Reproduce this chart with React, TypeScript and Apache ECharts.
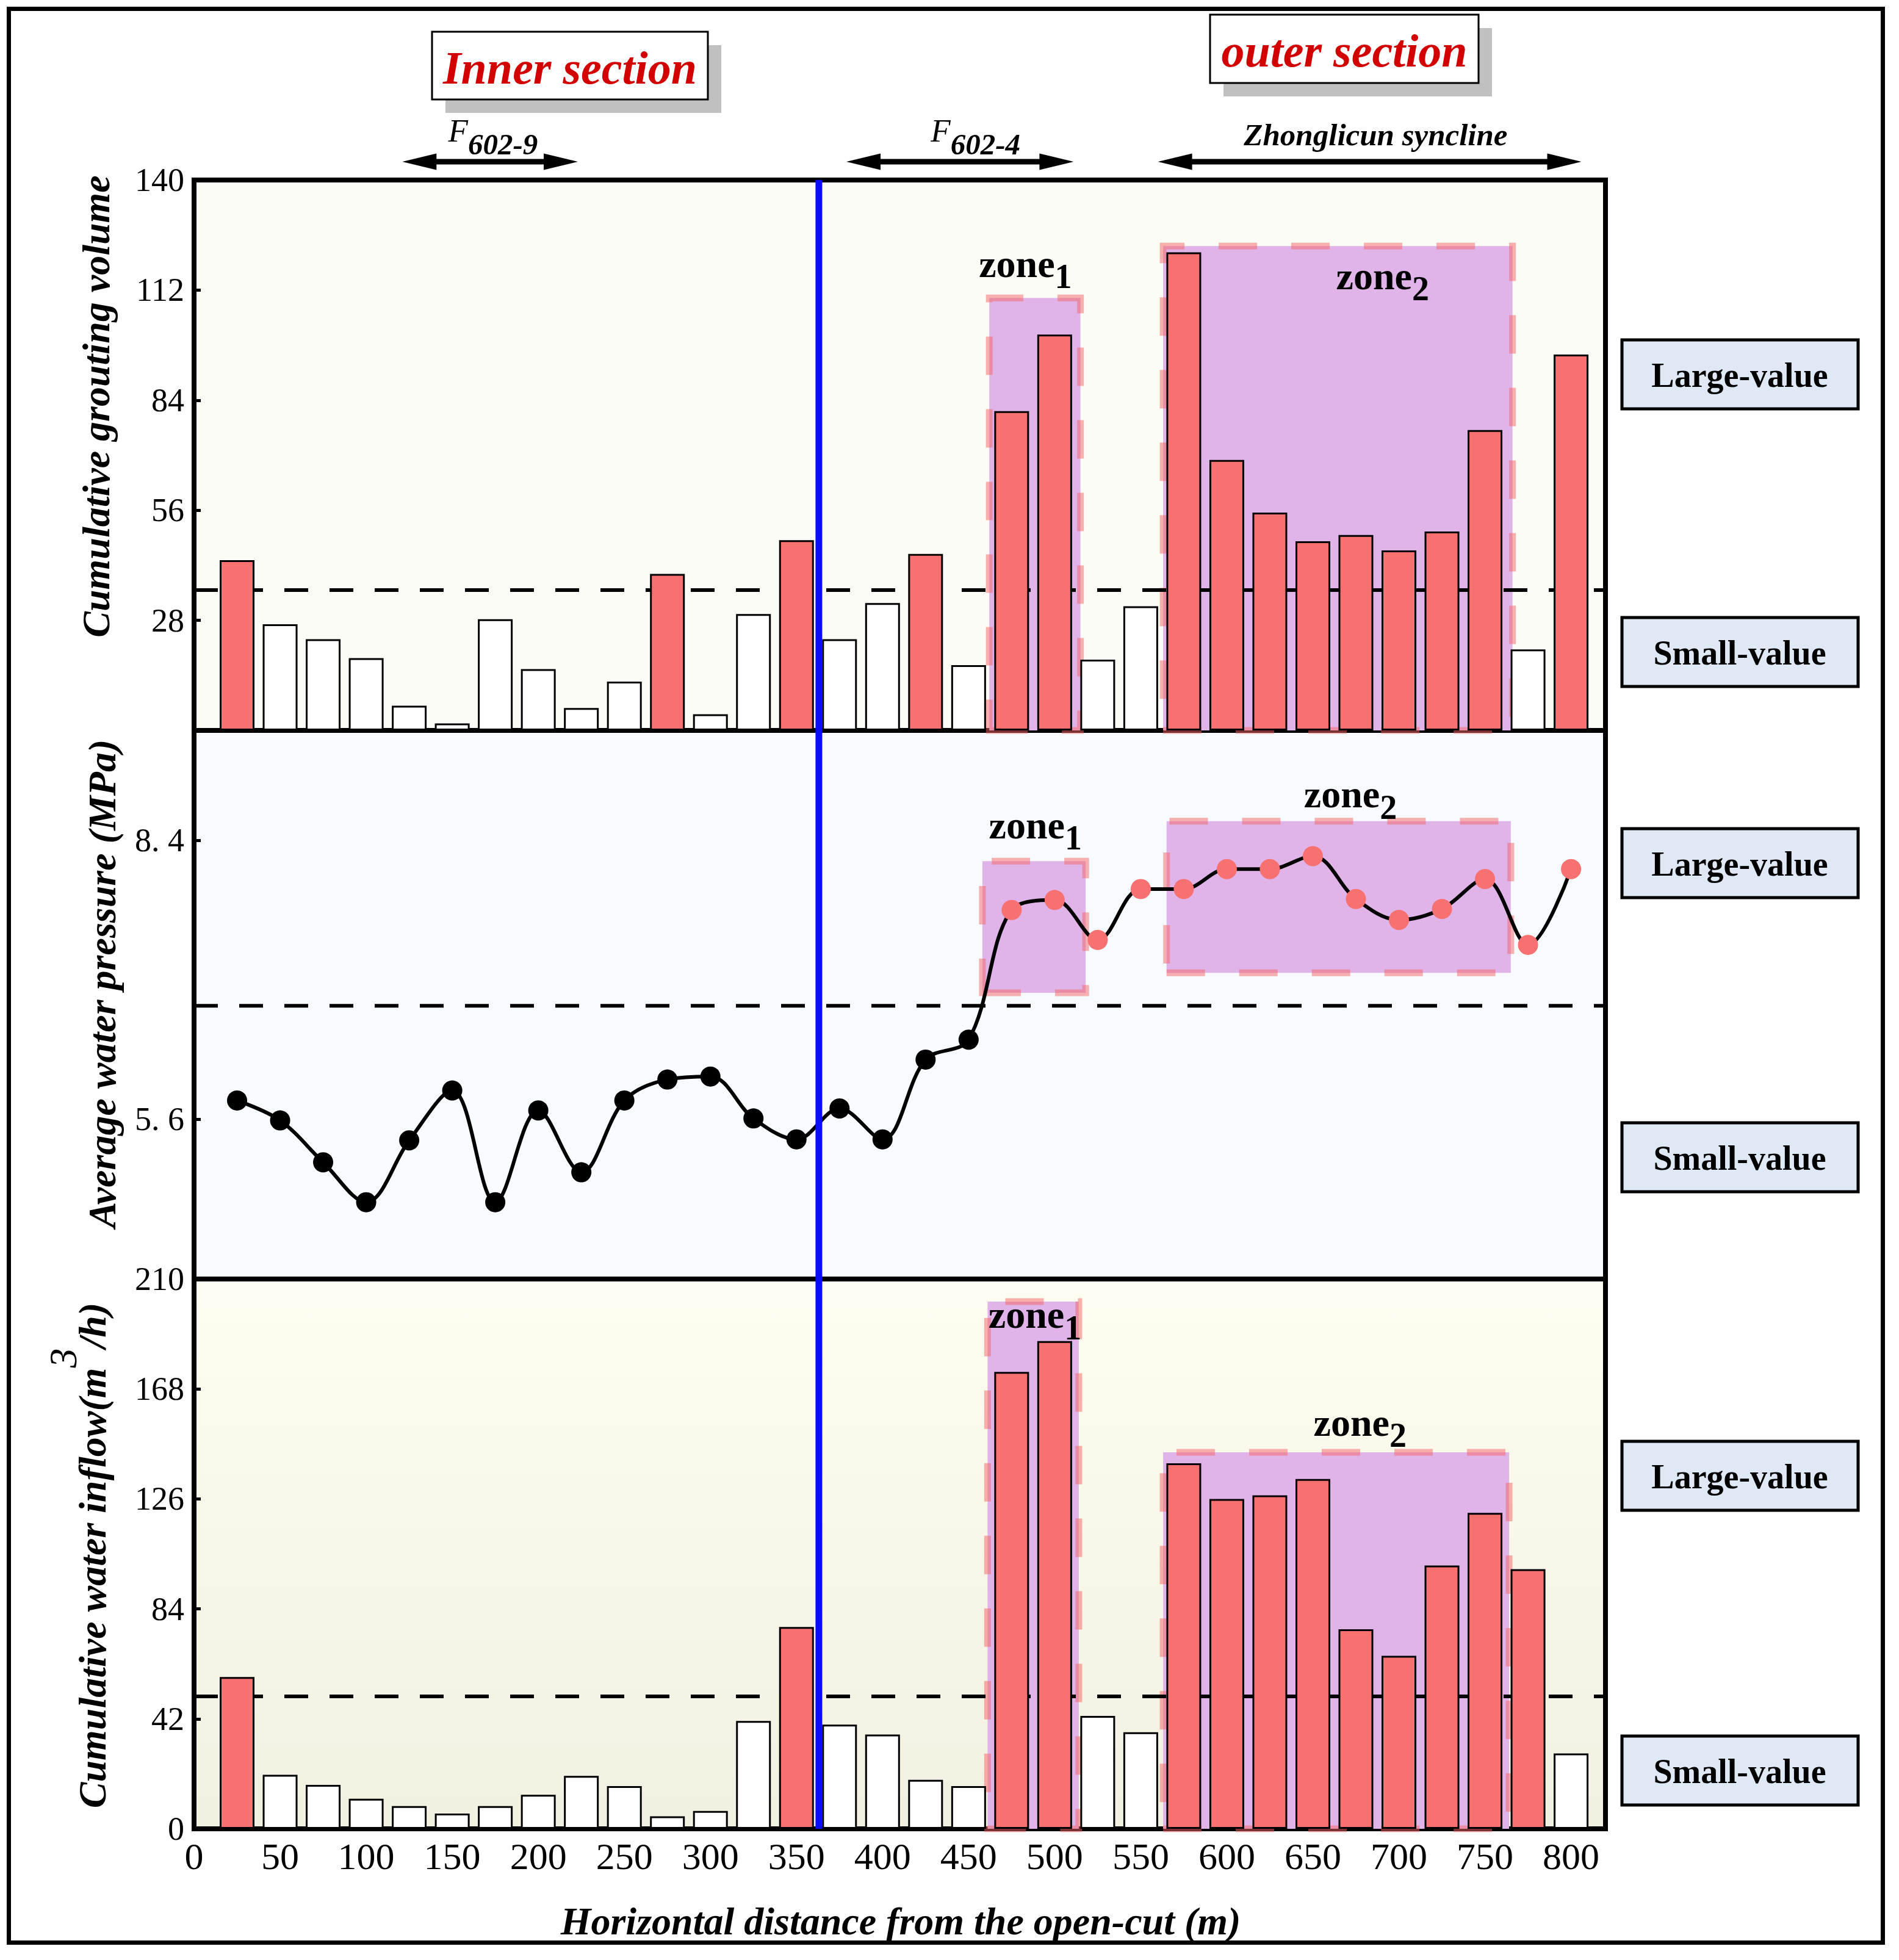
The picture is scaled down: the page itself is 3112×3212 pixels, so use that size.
import React, { useEffect, useRef } from 'react';
import * as echarts from 'echarts';

// ---------------- data ----------------
const distances = [25, 50, 75, 100, 125, 150, 175, 200, 225, 250, 275, 300, 325, 350, 375, 400, 425, 450, 475, 500, 525, 550, 575, 600, 625, 650, 675, 700, 725, 750, 775, 800];
const groutingVolume = [43.3, 27.0, 23.2, 18.4, 6.3, 1.8, 28.3, 15.6, 5.7, 12.4, 39.8, 4.1, 29.6, 48.4, 23.2, 32.4, 44.9, 16.6, 81.2, 100.7, 18.0, 31.6, 121.6, 68.8, 55.4, 48.1, 49.7, 45.8, 50.6, 76.4, 20.6, 95.6];
const waterPressure = [5.79, 5.59, 5.17, 4.77, 5.39, 5.89, 4.77, 5.69, 5.07, 5.79, 6.0, 6.03, 5.61, 5.4, 5.71, 5.4, 6.2, 6.4, 7.7, 7.8, 7.4, 7.91, 7.91, 8.11, 8.11, 8.24, 7.81, 7.6, 7.71, 8.01, 7.35, 8.11];
const waterInflow = [58.0, 20.6, 16.8, 11.5, 8.7, 5.8, 8.7, 13.0, 20.2, 16.3, 4.8, 6.8, 41.2, 77.1, 39.8, 36.0, 18.7, 16.3, 174.5, 186.3, 43.1, 36.9, 139.6, 126.0, 127.4, 133.6, 76.2, 66.1, 100.6, 120.7, 99.2, 28.8];

const groutingThreshold = 35.7;
const pressureThreshold = 6.74;
const inflowThreshold = 50.6;

const xTickValues = [0, 50, 100, 150, 200, 250, 300, 350, 400, 450, 500, 550, 600, 650, 700, 750, 800];
const pressureTickValues = [5.6, 8.4];

// zones: [xFrom, xTo, yFrom, yTo]
const groutingZones = [[462, 515, 0, 110], [563, 766, 0, 123.2]];
const pressureZones = [[458, 518, 6.87, 8.19], [565, 765, 7.07, 8.59]];
const inflowZones = [[461, 514, 0, 201.4], [563, 764, 0, 143.8]];

// zone labels: [subscript, x, y]
const groutingZoneLabels: [string, number, number][] = [['1', 483, 118.7], ['2', 690.5, 115.6]];
const pressureZoneLabels: [string, number, number][] = [['1', 488.8, 8.55], ['2', 671.8, 8.86]];
const inflowZoneLabels: [string, number, number][] = [['1', 488.5, 196.3], ['2', 677.4, 155.2]];

const dividerX = 363;

const structureSpans = [
  { main: 'F', sub: '602-9', from: 121, to: 223, labelX: 173.7 },
  { main: 'F', sub: '602-4', from: 379, to: 511, labelX: 454 },
  { main: 'Zhonglicun syncline', sub: '', from: 560, to: 806, labelX: 686.5 },
];

// ---------------- style ----------------
const SERIF = 'Liberation Serif';
const RED = '#f87171';
const GRID_LEFT = 318;
const GRID_WIDTH = 2313;
const panels = [
  { top: 295, height: 902 },
  { top: 1197, height: 899 },
  { top: 2096, height: 901 },
];

function zoneArea(zones: number[][]) {
  return {
    silent: true,
    z: 1,
    label: { show: false },
    itemStyle: {
      color: '#e0b4e8',
      borderColor: 'rgba(245,100,100,0.5)',
      borderWidth: 11,
      borderType: [63, 56],
    },
    data: zones.map((z) => [
      { xAxis: z[0], yAxis: z[2] },
      { xAxis: z[1], yAxis: z[3] },
    ]),
  };
}

function thresholdSeries(i: number, thr: number) {
  return {
    type: 'line',
    xAxisIndex: i,
    yAxisIndex: i,
    data: [[0, thr], [820, thr]],
    symbol: 'none',
    silent: true,
    z: 2,
    lineStyle: { color: '#000', width: 6, type: [39, 35] },
  };
}

function barSeries(i: number, values: number[], thr: number, zones: number[][]) {
  return {
    type: 'bar',
    xAxisIndex: i,
    yAxisIndex: i,
    z: 3,
    barWidth: 57,
    silent: true,
    itemStyle: { borderColor: '#000', borderWidth: 3 },
    data: distances.map((x, k) => ({
      value: [x, values[k]],
      itemStyle: { color: values[k] > thr ? RED : '#ffffff' },
    })),
    markArea: zoneArea(zones),
  };
}

function yAxisBase(i: number) {
  return {
    gridIndex: i,
    type: 'value',
    axisLine: { show: true, lineStyle: { color: '#000', width: 8 } },
    axisTick: { show: true, inside: true, length: 11, lineStyle: { color: '#000', width: 5 } },
    splitLine: { show: false },
    axisLabel: { color: '#000', fontFamily: SERIF, fontSize: 54, margin: 16 },
  };
}

function buildOption() {
  const b0 = yAxisBase(0);
  const b1 = yAxisBase(1);
  const b2 = yAxisBase(2);
  return {
    animation: false,
    backgroundColor: '#ffffff',
    textStyle: { fontFamily: SERIF },
    grid: panels.map((p, i) => ({
      left: GRID_LEFT,
      width: GRID_WIDTH,
      top: p.top,
      height: p.height,
      show: true,
      borderColor: '#000',
      borderWidth: 8,
      containLabel: false,
      outerBoundsMode: 'none',
      backgroundColor:
        i === 0
          ? '#fbfcf6'
          : i === 1
          ? '#f7fbff'
          : new echarts.graphic.LinearGradient(0, 0, 0, 1, [
              { offset: 0, color: '#fdfdf1' },
              { offset: 1, color: '#f2f0e1' },
            ]),
    })),
    xAxis: [0, 1, 2].map((i) => ({
      gridIndex: i,
      type: 'value',
      min: 0,
      max: 820,
      show: i === 2,
      axisLine: { show: true, lineStyle: { color: '#000', width: 8 } },
      axisTick: { show: false },
      splitLine: { show: false },
      axisLabel: {
        show: i === 2,
        customValues: xTickValues,
        color: '#000',
        fontFamily: SERIF,
        fontSize: 62,
        margin: 14,
      },
    })),
    yAxis: [
      {
        ...b0,
        min: 0,
        max: 140,
        interval: 28,
        axisLabel: { ...b0.axisLabel, formatter: (v: number) => (v === 0 ? '' : String(v)) },
      },
      {
        ...b1,
        min: 4,
        max: 9.5,
        axisTick: { ...b1.axisTick, customValues: pressureTickValues },
        axisLabel: {
          ...b1.axisLabel,
          customValues: pressureTickValues,
          formatter: (v: number) => v.toFixed(1).replace('.', '. '),
        },
      },
      {
        ...b2,
        min: 0,
        max: 210,
        interval: 42,
      },
    ],
    series: [
      barSeries(0, groutingVolume, groutingThreshold, groutingZones),
      thresholdSeries(0, groutingThreshold),
      {
        type: 'line',
        xAxisIndex: 1,
        yAxisIndex: 1,
        z: 4,
        silent: true,
        smooth: 0.35,
        symbol: 'circle',
        symbolSize: 33,
        lineStyle: { color: '#000', width: 6 },
        itemStyle: { color: '#000' },
        data: distances.map((x, k) => ({
          value: [x, waterPressure[k]],
          itemStyle: { color: waterPressure[k] > pressureThreshold ? RED : '#000' },
        })),
        markArea: zoneArea(pressureZones),
      },
      thresholdSeries(1, pressureThreshold),
      barSeries(2, waterInflow, inflowThreshold, inflowZones),
      thresholdSeries(2, inflowThreshold),
    ],
  };
}

function textEl(x: number, y: number, style: any, extra: any = {}) {
  return {
    type: 'text',
    x,
    y,
    z: 60,
    silent: true,
    ...extra,
    style: {
      fill: '#000',
      fontFamily: SERIF,
      align: 'center',
      verticalAlign: 'middle',
      textAlign: 'center',
      textVerticalAlign: 'middle',
      ...style,
    },
  };
}

function buildGraphics(chart: any) {
  const g: any[] = [];
  const px = (gi: number, x: number, y: number) => chart.convertToPixel({ gridIndex: gi }, [x, y]);

  // outer frame
  g.push({
    type: 'rect',
    z: 100,
    silent: true,
    shape: { x: 14.5, y: 14.5, width: 3071, height: 3169 },
    style: { fill: 'none', stroke: '#000', lineWidth: 7 },
  });

  // blue divider line
  const topP = px(0, dividerX, 140);
  const botP = px(2, dividerX, 0);
  g.push({
    type: 'line',
    z: 40,
    silent: true,
    shape: { x1: topP[0], y1: topP[1], x2: botP[0], y2: botP[1] },
    style: { stroke: '#0b0bff', lineWidth: 11 },
  });

  // section boxes
  const sections = [
    { text: 'Inner section', x: 708, y: 52, w: 452, h: 111 },
    { text: 'outer section', x: 1983, y: 24, w: 440, h: 112 },
  ];
  sections.forEach((s) => {
    g.push({ type: 'rect', z: 50, silent: true, shape: { x: s.x + 22, y: s.y + 22, width: s.w, height: s.h }, style: { fill: '#c0c0c0' } });
    g.push({ type: 'rect', z: 51, silent: true, shape: { x: s.x, y: s.y, width: s.w, height: s.h }, style: { fill: '#ffffff', stroke: '#000', lineWidth: 3 } });
    g.push(textEl(s.x + s.w / 2, s.y + s.h / 2 + 3, { text: s.text, fill: '#d20000', fontSize: 76, fontWeight: 'bold', fontStyle: 'italic' }));
  });

  // structure arrows + labels
  const arrowY = 265;
  const headLen = 56;
  const headHalf = 13.5;
  const shaftHalf = 4.5;
  structureSpans.forEach((s) => {
    const x1 = px(0, s.from, 0)[0];
    const x2 = px(0, s.to, 0)[0];
    g.push({
      type: 'polygon',
      z: 50,
      silent: true,
      shape: {
        points: [
          [x1, arrowY],
          [x1 + headLen, arrowY - headHalf],
          [x1 + headLen, arrowY - shaftHalf],
          [x2 - headLen, arrowY - shaftHalf],
          [x2 - headLen, arrowY - headHalf],
          [x2, arrowY],
          [x2 - headLen, arrowY + headHalf],
          [x2 - headLen, arrowY + shaftHalf],
          [x1 + headLen, arrowY + shaftHalf],
          [x1 + headLen, arrowY + headHalf],
        ],
      },
      style: { fill: '#000' },
    });
    const lx = px(0, s.labelX, 0)[0];
    if (s.sub) {
      g.push(
        textEl(lx, 214, {
          text: `{f|${s.main}}{s|${s.sub}}`,
          rich: {
            f: { fontFamily: SERIF, fontSize: 53, fontStyle: 'italic', fill: '#000' },
            s: { fontFamily: SERIF, fontSize: 49, fontStyle: 'italic', fontWeight: 'bold', fill: '#000', padding: [44, 0, 0, 0] },
          },
        })
      );
    } else {
      g.push(textEl(lx, 221, { text: s.main, fontSize: 51, fontWeight: 'bold', fontStyle: 'italic' }));
    }
  });

  // axis titles
  const titleStyle = { fontSize: 64, fontWeight: 'bold', fontStyle: 'italic' };
  g.push(textEl(157, 666, { ...titleStyle, text: 'Cumulative grouting volume' }, { rotation: Math.PI / 2 }));
  g.push(textEl(167, 1612, { ...titleStyle, text: 'Average water pressure (MPa)' }, { rotation: Math.PI / 2 }));
  g.push(
    textEl(
      151,
      2549,
      {
        text: '{a|Cumulative water inflow(m}{s|3}{a|/h)}',
        rich: {
          a: { fontFamily: SERIF, fontSize: 64, fontWeight: 'bold', fontStyle: 'italic', fill: '#000' },
          s: { fontFamily: SERIF, fontSize: 64, fontStyle: 'italic', fill: '#000', padding: [0, 0, 96, 0] },
        },
      },
      { rotation: Math.PI / 2 }
    )
  );
  g.push(textEl(1476, 3148, { ...titleStyle, text: 'Horizontal distance from the open-cut (m)' }));

  // value boxes on the right
  const valueBoxes = [
    { text: 'Large-value', y: 557 },
    { text: 'Small-value', y: 1012 },
    { text: 'Large-value', y: 1358 },
    { text: 'Small-value', y: 1840 },
    { text: 'Large-value', y: 2362 },
    { text: 'Small-value', y: 2845 },
  ];
  valueBoxes.forEach((b) => {
    g.push({ type: 'rect', z: 50, silent: true, shape: { x: 2658, y: b.y, width: 387, height: 113 }, style: { fill: '#dee9f5', stroke: '#000', lineWidth: 5 } });
    g.push(textEl(2851, b.y + 58, { text: b.text, fontSize: 56, fontWeight: 'bold' }));
  });

  // zone labels
  const zoneLabel = (gi: number, l: [string, number, number]) => {
    const p = px(gi, l[1], l[2]);
    return textEl(p[0], p[1], {
      text: `{z|zone}{s|${l[0]}}`,
      rich: {
        z: { fontFamily: SERIF, fontSize: 64, fontWeight: 'bold', fill: '#000' },
        s: { fontFamily: SERIF, fontSize: 56, fontWeight: 'bold', fill: '#000', padding: [42, 0, 0, 0] },
      },
    });
  };
  groutingZoneLabels.forEach((l) => g.push(zoneLabel(0, l)));
  pressureZoneLabels.forEach((l) => g.push(zoneLabel(1, l)));
  inflowZoneLabels.forEach((l) => g.push(zoneLabel(2, l)));

  return g;
}

export default function App() {
  const ref = useRef<HTMLDivElement>(null);
  useEffect(() => {
    const chart = echarts.init(ref.current as HTMLDivElement, null, { renderer: 'svg' });
    chart.setOption(buildOption() as any);
    chart.setOption({ graphic: buildGraphics(chart) } as any);
    return () => chart.dispose();
  }, []);
  return <div ref={ref} style={{ position: 'absolute', left: 0, top: 0, width: 3112, height: 3212 }} />;
}
